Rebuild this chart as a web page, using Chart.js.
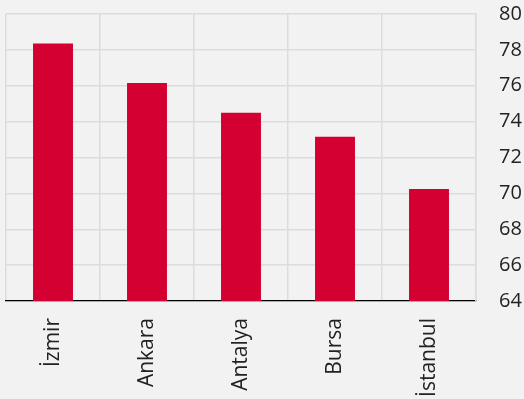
<!DOCTYPE html>
<html>
<head>
<meta charset="utf-8">
<style>
  html, body { margin: 0; padding: 0; background: #f2f2f2; }
  #wrap { width: 524px; height: 399px; position: relative; }
</style>
<script src="https://cdn.jsdelivr.net/npm/chart.js@4/dist/chart.umd.min.js"></script>
</head>
<body>
<div id="wrap"><canvas id="chart" width="524" height="399"></canvas></div>
<script>
// Cities and their values
const cities = ['İzmir', 'Ankara', 'Antalya', 'Bursa', 'İstanbul'];
const values = [78.35, 76.15, 74.5, 73.15, 70.25];
const yTicks = [64, 66, 68, 70, 72, 74, 76, 78, 80];

const gridColor = '#dcdcdc';
const textColor = '#222222';
const family = '"Open Sans", sans-serif';

new Chart(document.getElementById('chart'), {
  type: 'bar',
  data: {
    labels: cities,
    datasets: [{
      data: values,
      backgroundColor: '#d50032',
      borderWidth: 0,
      barPercentage: 0.425,
      categoryPercentage: 1.0
    }]
  },
  options: {
    responsive: false,
    animation: false,
    layout: { padding: { top: 14, left: 6, right: 0, bottom: 0 } },
    plugins: { legend: { display: false }, tooltip: { enabled: false } },
    scales: {
      x: {
        grid: { color: gridColor, lineWidth: 1.5, drawTicks: false, offset: true },
        border: { color: '#000000', width: 1.2 },
        ticks: {
          color: textColor, font: { family, size: 21 },
          minRotation: 90, maxRotation: 90, padding: 17, autoSkip: false
        },
        afterFit: (scale) => {
          scale.height = 98;
          scale.paddingLeft = 0; scale.paddingRight = 0;
          scale.paddingTop = 0; scale.paddingBottom = 0;
        }
      },
      y: {
        position: 'right',
        min: 64, max: 80,
        grid: { color: gridColor, lineWidth: 1.5, drawTicks: false },
        border: { color: gridColor, width: 1.5 },
        afterBuildTicks: (scale) => { scale.ticks = yTicks.map(v => ({ value: v })); },
        ticks: { color: textColor, font: { family, size: 20 }, padding: 23 },
        afterFit: (scale) => {
          scale.width = 48;
          scale.paddingTop = 0; scale.paddingBottom = 0;
        }
      }
    }
  }
});
</script>
</body>
</html>
